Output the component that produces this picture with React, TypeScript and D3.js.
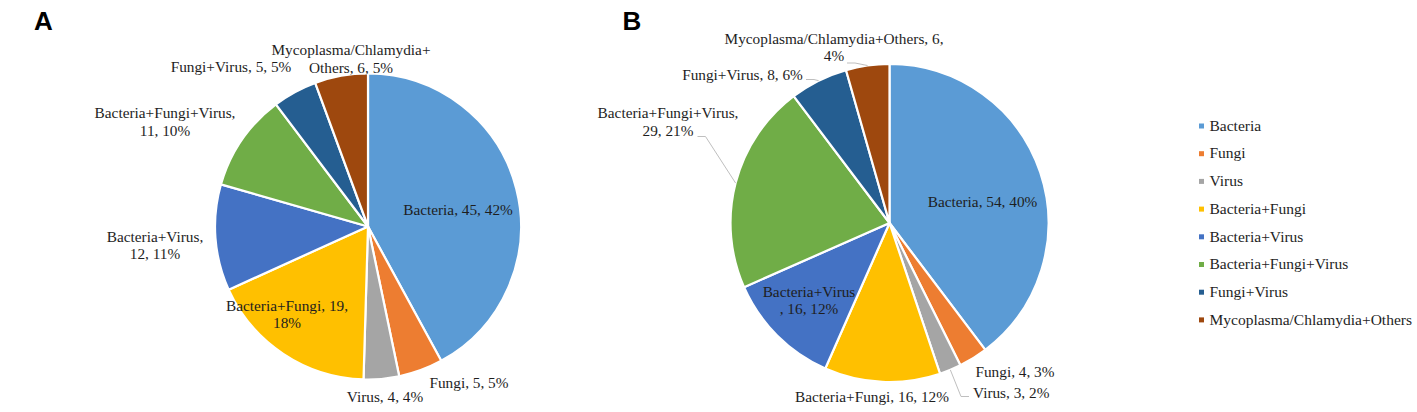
import React from "react";
import * as d3 from "d3";

// ---------- data ----------
const categories = [
  "Bacteria",
  "Fungi",
  "Virus",
  "Bacteria+Fungi",
  "Bacteria+Virus",
  "Bacteria+Fungi+Virus",
  "Fungi+Virus",
  "Mycoplasma/Chlamydia+Others",
];
const colors = ["#5B9BD5", "#ED7D31", "#A5A5A5", "#FFC000", "#4472C4", "#70AD47", "#255E91", "#9E480E"];

const valuesA = [45, 5, 4, 19, 12, 11, 5, 6];
const percentA = ["42%", "5%", "4%", "18%", "11%", "10%", "5%", "5%"];
const valuesB = [54, 4, 3, 16, 16, 29, 8, 6];
const percentB = ["40%", "3%", "2%", "12%", "12%", "21%", "6%", "4%"];

// ---------- label layout (text wrapping / placement like the original) ----------
type LabelLayout = {
  lines: (name: string, v: number, p: string) => string[];
  dx: number;
  dy: number;
  anchor: "start" | "middle" | "end";
  leader?: { dx: number; dy: number; dir: number };
};

const layoutA: LabelLayout[] = [
  { lines: (n, v, p) => [`${n}, ${v}, ${p}`], dx: 90, dy: -11.5, anchor: "middle" },
  { lines: (n, v, p) => [`${n}, ${v}, ${p}`], dx: 101, dy: 161.8, anchor: "middle" },
  { lines: (n, v, p) => [`${n}, ${v}, ${p}`], dx: 17, dy: 175.2, anchor: "middle" },
  { lines: (n, v, p) => [`${n}, ${v},`, p], dx: -81, dy: 84.2, anchor: "middle" },
  { lines: (n, v, p) => [`${n},`, `${v}, ${p}`], dx: -213, dy: 15.2, anchor: "middle" },
  { lines: (n, v, p) => [`${n},`, `${v}, ${p}`], dx: -203, dy: -108.2, anchor: "middle" },
  { lines: (n, v, p) => [`${n}, ${v}, ${p}`], dx: -137, dy: -155, anchor: "middle" },
  { lines: (n, v, p) => ["Mycoplasma/Chlamydia+", `Others, ${v}, ${p}`], dx: -17, dy: -171.5, anchor: "middle" },
];

const layoutB: LabelLayout[] = [
  { lines: (n, v, p) => [`${n}, ${v}, ${p}`], dx: 93, dy: -16.3, anchor: "middle" },
  { lines: (n, v, p) => [`${n}, ${v}, ${p}`], dx: 125.5, dy: 154.3, anchor: "middle" },
  {
    lines: (n, v, p) => [`${n}, ${v}, ${p}`], dx: 83.5, dy: 175.3, anchor: "start",
    leader: { dx: 79.5, dy: 173.5, dir: -1 },
  },
  { lines: (n, v, p) => [`${n}, ${v}, ${p}`], dx: -17.5, dy: 178.7, anchor: "middle" },
  { lines: (n, v, p) => [n, `, ${v}, ${p}`], dx: -80.5, dy: 73.7, anchor: "middle" },
  {
    lines: (n, v, p) => [`${n},`, `${v}, ${p}`], dx: -221.5, dy: -104.7, anchor: "middle",
    leader: { dx: -192, dy: -86.5, dir: 1 },
  },
  {
    lines: (n, v, p) => [`${n}, ${v}, ${p}`], dx: -147, dy: -143, anchor: "middle",
    leader: { dx: -83.5, dy: -143.5, dir: 1 },
  },
  {
    lines: (n, v, p) => [`${n}, ${v},`, p], dx: -55.5, dy: -179.5, anchor: "middle",
    leader: { dx: -42.5, dy: -160, dir: 1 },
  },
];

const SERIF = "'Liberation Serif', 'Times New Roman', serif";
const TEXT = "#1e1e1e";
const LINE_H = 17.6;

function Pie({ cx, cy, r, values, percents, layout, letter, lx, ly }: any) {
  const pie = d3.pie<number>().sort(null).value((d) => d)(values);
  const arc = d3.arc<d3.PieArcDatum<number>>().innerRadius(0).outerRadius(r);
  return (
    <g>
      <text x={lx} y={ly} fontFamily="'Liberation Sans', Arial, sans-serif" fontWeight="bold" fontSize={26} fill="#000">
        {letter}
      </text>
      <g transform={`translate(${cx},${cy})`}>
        {pie.map((d, i) => (
          <path key={i} d={arc(d) || ""} fill={colors[i]} stroke="#fff" strokeWidth={2.2} strokeLinejoin="round" />
        ))}
        {pie.map((d, i) => {
          const L: LabelLayout = layout[i];
          if (!L.leader) return null;
          const mid = (d.startAngle + d.endAngle) / 2;
          const ex = r * Math.sin(mid);
          const ey = -r * Math.cos(mid);
          const sx = L.leader.dx;
          const sy = L.leader.dy;
          const pts = [[sx, sy], [sx + L.leader.dir * 8, sy], [ex, ey]];
          return (
            <polyline key={"l" + i} points={pts.map((p) => p.join(",")).join(" ")} fill="none" stroke="#BFBFBF" strokeWidth={1} />
          );
        })}
        {pie.map((d, i) => {
          const L: LabelLayout = layout[i];
          const lines = L.lines(categories[i], values[i], percents[i]);
          return (
            <text key={"t" + i} x={L.dx} y={L.dy} textAnchor={L.anchor} fontFamily={SERIF} fontSize={15.3} fill={TEXT}>
              {lines.map((t, j) => (
                <tspan key={j} x={L.dx} y={L.dy + j * LINE_H}>
                  {t}
                </tspan>
              ))}
            </text>
          );
        })}
      </g>
    </g>
  );
}

export default function App() {
  const legendY = d3.scalePoint<string>().domain(categories).range([130.7, 324.6]);
  return (
    <svg width={1417} height={412} style={{ position: "absolute", left: 0, top: 0, background: "#fff" }}>
      <rect width={1417} height={412} fill="#fff" />
      <Pie cx={368} cy={226.5} r={153} values={valuesA} percents={percentA} layout={layoutA} letter="A" lx={34} ly={30} />
      <Pie cx={889.5} cy={223} r={159} values={valuesB} percents={percentB} layout={layoutB} letter="B" lx={622.5} ly={30} />
      <g>
        {categories.map((c, i) => (
          <g key={c}>
            <rect x={1199} y={(legendY(c) as number) - 7.2} width={5} height={5} fill={colors[i]} />
            <text x={1209.5} y={legendY(c)} fontFamily={SERIF} fontSize={15.5} fill={TEXT}>
              {c}
            </text>
          </g>
        ))}
      </g>
    </svg>
  );
}
